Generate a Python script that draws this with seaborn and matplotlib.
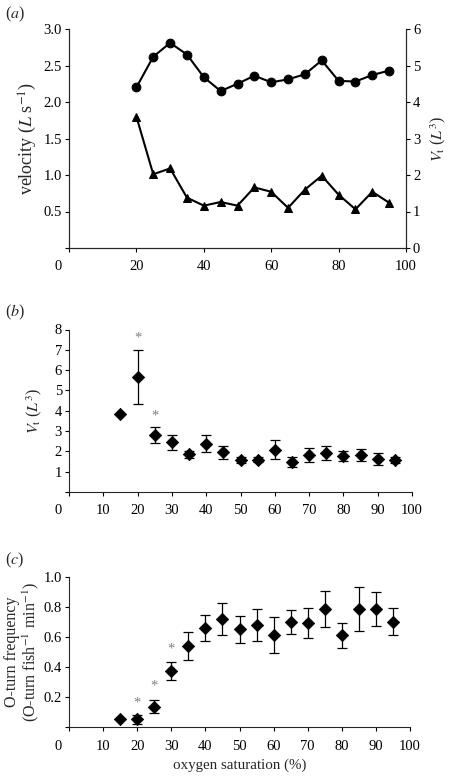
import matplotlib
matplotlib.use('Agg')
import pandas as pd
import matplotlib.pyplot as plt
import matplotlib.transforms as mtransforms
import seaborn as sns

# --- panel (a): swimming velocity and turning volume ---
sat_a = [20, 25, 30, 35, 40, 45, 50, 55, 60, 65, 70, 75, 80, 85, 90, 95]
velocity = [2.20, 2.62, 2.81, 2.65, 2.34, 2.15, 2.25, 2.36, 2.27, 2.31,
            2.38, 2.57, 2.29, 2.28, 2.37, 2.43]
vt_a = [3.60, 2.02, 2.18, 1.38, 1.16, 1.26, 1.16, 1.66, 1.54, 1.10,
        1.60, 1.98, 1.46, 1.06, 1.54, 1.24]

# --- panel (b): Vt with error bars ---
sat_bc = [15, 20, 25, 30, 35, 40, 45, 50, 55, 60, 65, 70, 75, 80, 85, 90, 95]
vt_b = [3.85, 5.67, 2.80, 2.44, 1.85, 2.37, 1.95, 1.58, 1.58, 2.08, 1.48,
        1.83, 1.92, 1.77, 1.82, 1.64, 1.57]
vt_b_err = [0.0, 1.33, 0.38, 0.35, 0.18, 0.42, 0.31, 0.14, 0.12, 0.47, 0.25,
            0.33, 0.35, 0.23, 0.30, 0.30, 0.13]
star_b_x = [20, 25]
star_b_y = [7.6, 3.74]

# --- panel (c): O-turn frequency ---
oturn = [0.05, 0.05, 0.135, 0.37, 0.54, 0.66, 0.72, 0.65, 0.68, 0.61, 0.70,
         0.69, 0.785, 0.61, 0.785, 0.785, 0.70]
oturn_err = [0.0, 0.03, 0.045, 0.06, 0.095, 0.085, 0.105, 0.09, 0.105, 0.12,
             0.08, 0.10, 0.12, 0.085, 0.145, 0.11, 0.09]
star_c_x = [20, 25, 30]
star_c_y = [0.16, 0.27, 0.52]

sns.set_style('ticks')
plt.rcParams['font.family'] = ['Liberation Serif', 'DejaVu Serif']
plt.rcParams['mathtext.fontset'] = 'stix'
plt.rcParams['font.size'] = 10.5
plt.rcParams['axes.linewidth'] = 0.8
plt.rcParams['xtick.major.width'] = 0.8
plt.rcParams['ytick.major.width'] = 0.8
plt.rcParams['xtick.major.size'] = 3
plt.rcParams['ytick.major.size'] = 3
plt.rcParams['xtick.color'] = 'black'
plt.rcParams['ytick.color'] = 'black'

TICK_FS = 10.5

fig = plt.figure(figsize=(4.58, 7.78), dpi=100)
W, H = 458.0, 778.0


def add_axes(left, right, top, bottom):
    return fig.add_axes([left / W, 1 - bottom / H, (right - left) / W, (bottom - top) / H])


def shift_zero_label(ax):
    # the origin label sits a bit to the left of the axis corner
    offset = mtransforms.ScaledTranslation(-11 / 100, 0, fig.dpi_scale_trans)
    lab = ax.get_xticklabels()[0]
    lab.set_transform(lab.get_transform() + offset)


def style(ax):
    for s in ['top', 'right']:
        ax.spines[s].set_visible(False)
    ax.tick_params(labelsize=TICK_FS, pad=2)


# panel (a)
df_a = pd.DataFrame({'sat': sat_a, 'velocity': velocity, 'vt': vt_a})
ax1 = add_axes(69, 406, 29, 248)
sns.lineplot(data=df_a, x='sat', y='velocity', ax=ax1, color='black',
             marker='o', markersize=6.3, linewidth=1.5, markeredgecolor='black')
ax1.set_xlim(0, 100)
ax1.set_ylim(0, 3.0)
ax1.set_xticks([0, 20, 40, 60, 80, 100])
ax1.set_yticks([0, 0.5, 1.0, 1.5, 2.0, 2.5, 3.0])
ax1.set_yticklabels(['', '0.5', '1.0', '1.5', '2.0', '2.5', '3.0'])
ax1.set_xlabel('')
ax1.set_ylabel(r'velocity ($L$ s$^{-1}$)', fontsize=13, labelpad=3)
ax1.spines['top'].set_visible(False)
ax1.tick_params(labelsize=TICK_FS, pad=2)
ax1.xaxis.set_tick_params(pad=6)

ax1r = ax1.twinx()
sns.lineplot(data=df_a, x='sat', y='vt', ax=ax1r, color='black',
             marker='^', markersize=5.8, linewidth=1.5, markeredgecolor='black')
ax1r.set_ylim(0, 6)
ax1r.set_yticks([0, 1, 2, 3, 4, 5, 6])
ax1r.set_ylabel(r'$V_{\rm t}$ ($L^3$)', fontsize=11.5, labelpad=6)
ax1r.spines['top'].set_visible(False)
ax1r.tick_params(labelsize=TICK_FS, pad=2)
ax1r.set_xlim(0, 100)
shift_zero_label(ax1)

# panel (b)
df_b = pd.DataFrame({'sat': sat_bc, 'vt': vt_b, 'err': vt_b_err})
ax2 = add_axes(69, 412, 329.5, 492)
ax2.errorbar(df_b['sat'], df_b['vt'], yerr=df_b['err'], fmt='none',
             ecolor='black', elinewidth=0.9, capsize=3.3, capthick=0.9)
sns.scatterplot(data=df_b, x='sat', y='vt', ax=ax2, color='black',
                marker='D', s=40, edgecolor='black', zorder=3)
for x, y in zip(star_b_x, star_b_y):
    ax2.text(x, y, '*', ha='center', va='center', color='#808080', fontsize=10.5)
ax2.set_xlim(0, 100)
ax2.set_ylim(0, 8)
ax2.set_xticks(range(0, 101, 10))
ax2.set_yticks(range(0, 9))
ax2.set_yticklabels([''] + [str(i) for i in range(1, 9)])
ax2.set_xlabel('')
ax2.set_ylabel(r'$V_{\rm t}$ ($L^3$)', fontsize=11.5, labelpad=8)
style(ax2)
ax2.xaxis.set_tick_params(pad=6)
shift_zero_label(ax2)

# panel (c)
df_c = pd.DataFrame({'sat': sat_bc, 'freq': oturn, 'err': oturn_err})
ax3 = add_axes(69, 410, 576.7, 727)
ax3.errorbar(df_c['sat'], df_c['freq'], yerr=df_c['err'], fmt='none',
             ecolor='black', elinewidth=0.9, capsize=3.3, capthick=0.9)
sns.scatterplot(data=df_c, x='sat', y='freq', ax=ax3, color='black',
                marker='D', s=40, edgecolor='black', zorder=3)
for x, y in zip(star_c_x, star_c_y):
    ax3.text(x, y, '*', ha='center', va='center', color='#808080', fontsize=10.5)
ax3.set_xlim(0, 100)
ax3.set_ylim(0, 1.0)
ax3.set_xticks(range(0, 101, 10))
ax3.set_yticks([0, 0.2, 0.4, 0.6, 0.8, 1.0])
ax3.set_yticklabels(['', '0.2', '0.4', '0.6', '0.8', '1.0'])
ax3.set_xlabel('oxygen saturation (%)', fontsize=10.8, labelpad=4)
ax3.set_ylabel('O-turn frequency\n(O-turn fish$^{-1}$ min$^{-1}$)', fontsize=11.5,
               labelpad=2, linespacing=1.05)
style(ax3)
ax3.xaxis.set_tick_params(pad=6)
shift_zero_label(ax3)

# panel letters
fig.text(5 / W, 1 - 14 / H, '($a$)', fontsize=11.5, va='center', ha='left')
fig.text(5 / W, 1 - 312 / H, '($b$)', fontsize=11.5, va='center', ha='left')
fig.text(5 / W, 1 - 560 / H, '($c$)', fontsize=11.5, va='center', ha='left')

fig.savefig('out.png', dpi=100)
